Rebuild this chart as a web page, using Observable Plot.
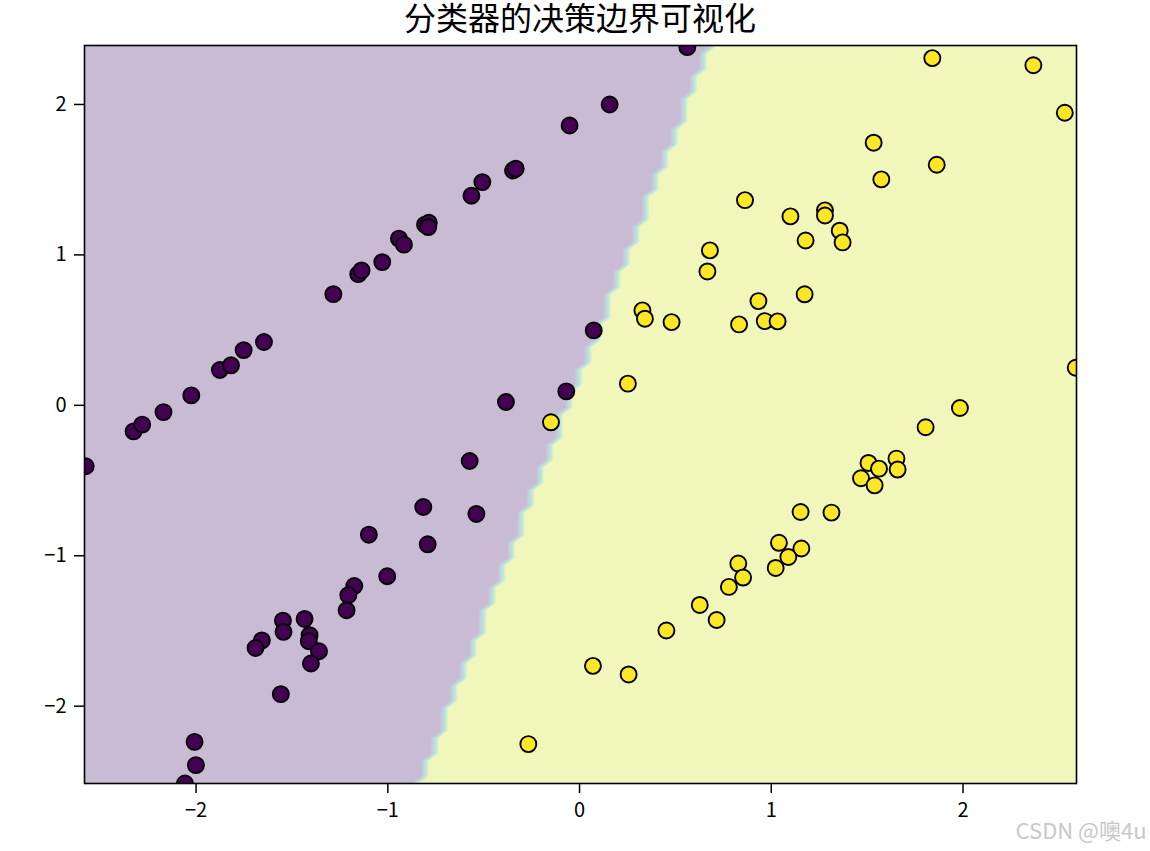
<!DOCTYPE html>
<html><head><meta charset="utf-8">
<script src="https://cdn.jsdelivr.net/npm/d3@7"></script>
<script src="https://cdn.jsdelivr.net/npm/@observablehq/plot@0.6"></script>
<style>
body{margin:0;background:#fff}
#wrap{position:relative;width:1150px;height:851px}
#title{position:absolute;top:0;left:84px;width:992px;text-align:center;font-family:'DejaVu Sans','Noto Sans CJK SC',sans-serif;font-size:32px;line-height:38px;color:#000;white-space:nowrap}
#chart svg{display:block}
</style>
</head><body><div id="wrap"><div id="chart"></div><div id="title"></div></div>
<script>
const titleText = "分类器的决策边界可视化";
const watermarkText = "CSDN @噢4u";
const xTicks = [-2, -1, 0, 1, 2];
const yTicks = [-2, -1, 0, 1, 2];
const xLimits = [-2.582, 2.592];
const yLimits = [-2.514, 2.392];

// class 0 (purple)
const class0X = [-2.576,-2.326,-2.281,-2.170,-2.025,-1.876,-1.818,-1.752,-1.646,-1.284,-1.154,-1.137,-1.029,-0.942,-0.916,-0.806,-0.786,-0.789,-0.564,-0.507,-0.347,-0.333,-0.052,0.157,0.562,0.074,-0.069,-0.384,-0.573,-0.538,-0.815,-0.792,-1.099,-1.003,-1.175,-1.206,-1.215,-1.547,-1.544,-1.434,-1.408,-1.412,-1.359,-1.401,-1.657,-1.690,-1.558,-2.008,-2.001,-2.058];
const class0Y = [-0.405,-0.173,-0.128,-0.045,0.066,0.235,0.266,0.367,0.421,0.739,0.872,0.897,0.952,1.108,1.068,1.201,1.214,1.185,1.393,1.484,1.561,1.573,1.860,2.000,2.381,0.498,0.093,0.022,-0.370,-0.722,-0.676,-0.924,-0.860,-1.136,-1.201,-1.262,-1.362,-1.431,-1.506,-1.420,-1.528,-1.568,-1.635,-1.716,-1.563,-1.613,-1.920,-2.237,-2.392,-2.514];
// class 1 (yellow)
const class1X = [1.840,2.367,2.531,1.534,1.863,1.574,0.863,1.100,1.280,1.280,1.357,1.372,1.179,0.680,0.667,1.174,0.933,0.328,0.341,0.480,0.832,0.966,1.033,0.252,2.588,1.984,1.805,-0.149,1.653,1.507,1.562,1.659,1.468,1.539,1.153,1.314,1.040,1.157,1.089,1.023,0.828,0.853,0.779,0.627,0.715,0.453,0.070,0.256,-0.267];
const class1Y = [2.308,2.261,1.945,1.746,1.599,1.502,1.364,1.256,1.296,1.262,1.161,1.083,1.096,1.030,0.890,0.738,0.693,0.631,0.576,0.553,0.538,0.560,0.558,0.144,0.250,-0.018,-0.146,-0.113,-0.354,-0.383,-0.421,-0.427,-0.485,-0.532,-0.709,-0.713,-0.914,-0.952,-1.008,-1.081,-1.052,-1.145,-1.207,-1.327,-1.427,-1.497,-1.732,-1.789,-2.252];

// linear classifier that defines the regions
const boundaryWeights = [1, -0.309];
const boundaryBias = 0.063;
const meshStep = 0.05;
const contourLevels = [0, 0.15, 0.3, 0.45, 0.6, 0.75, 0.9, 1.05];
const regionAlpha = 0.3;
const classColors = ["#440154", "#fde725"];

const predict = (x, y) => (boundaryWeights[0] * x + boundaryWeights[1] * y + boundaryBias > 0 ? 1 : 0);
const nx = Math.ceil((xLimits[1] - xLimits[0]) / meshStep) + 1;
const ny = Math.ceil((yLimits[1] - yLimits[0]) / meshStep) + 1;
const grid = new Array(nx * ny);
for (let j = 0; j < ny; j++) for (let i = 0; i < nx; i++) {
  grid[i + j * nx] = predict(xLimits[0] + i * meshStep, yLimits[0] + j * meshStep);
}
const gx1 = xLimits[0] - meshStep / 2, gy1 = yLimits[0] - meshStep / 2;
const thresholds = contourLevels.slice(0, -1);
const lo = contourLevels[0], hi = contourLevels[contourLevels.length - 1];
const step = contourLevels[1] - contourLevels[0];
const tMax = thresholds[thresholds.length - 1];
const blend = (c) => { c = d3.rgb(c); const f = v => 255 - regionAlpha * (255 - v); return d3.rgb(f(c.r), f(c.g), f(c.b)).formatHex(); };
const bandColor = u => blend(d3.interpolateViridis((u * tMax + step / 2 - lo) / (hi - lo)));

const class0 = class0X.map((x, i) => ({x, y: class0Y[i]}));
const class1 = class1X.map((x, i) => ({x, y: class1Y[i]}));
const fmt = d => (d < 0 ? "\u2212" + Math.abs(d) : String(d));

const chart = Plot.plot({
  width: 1150, height: 851,
  marginLeft: 84, marginRight: 74, marginTop: 45, marginBottom: 68,
  style: {fontFamily: "'Noto Sans CJK SC', 'DejaVu Sans', sans-serif", fontSize: "20px", color: "black", background: "white"},
  x: {domain: xLimits},
  y: {domain: yLimits},
  color: {type: "linear", domain: [lo, tMax], interpolate: bandColor},
  marks: [
    Plot.contour(grid, {width: nx, height: ny, x1: gx1, y1: gy1, x2: gx1 + nx * meshStep, y2: gy1 + ny * meshStep,
      fill: Plot.identity, thresholds, stroke: "none", clip: true}),
    Plot.dot(class0, {x: "x", y: "y", r: 8, fill: classColors[0], stroke: "black", strokeWidth: 1.9, clip: true}),
    Plot.dot(class1, {x: "x", y: "y", r: 8, fill: classColors[1], stroke: "black", strokeWidth: 1.9, clip: true}),
    Plot.frame({stroke: "black", strokeWidth: 1.6}),
    Plot.axisX({ticks: xTicks, tickFormat: fmt, tickSize: 10, tickPadding: 9, strokeWidth: 1.5, label: null, fontSize: 20}),
    Plot.axisY({ticks: yTicks, tickFormat: fmt, tickSize: 10, tickPadding: 8, strokeWidth: 1.5, label: null, fontSize: 20}),
    Plot.text([watermarkText], {frameAnchor: "bottom-right", textAnchor: "end", lineAnchor: "middle", dx: 70, dy: 48, fontSize: 22, fill: "#c8c8c8"})
  ]
});
document.getElementById("chart").appendChild(chart);
document.getElementById("title").textContent = titleText;
</script>
</body></html>
